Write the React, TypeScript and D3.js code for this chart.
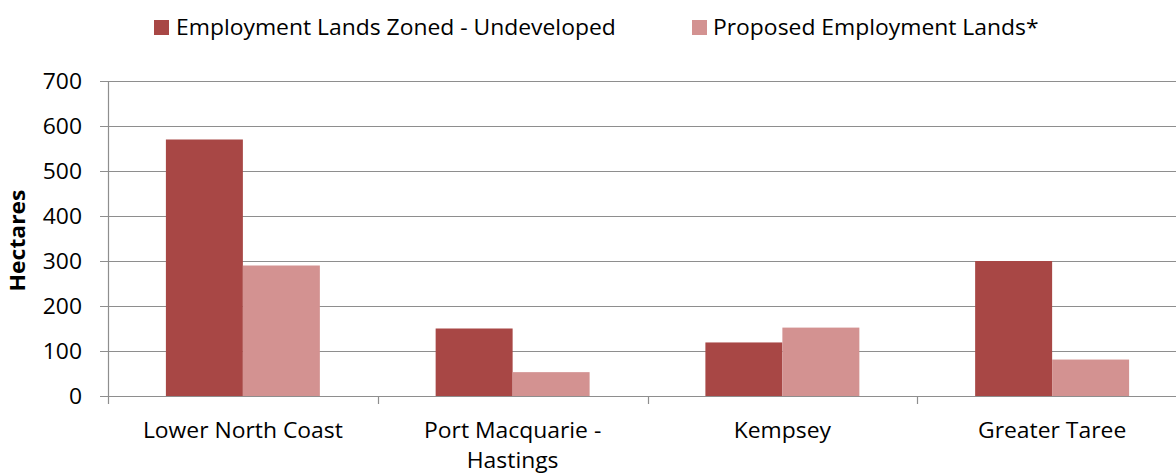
import React from "react";
import * as d3 from "d3";

const categories = ["Lower North Coast", "Port Macquarie - Hastings", "Kempsey", "Greater Taree"];
const categoryLines = [["Lower North Coast"], ["Port Macquarie -", "Hastings"], ["Kempsey"], ["Greater Taree"]];
const seriesNames = ["Employment Lands Zoned - Undeveloped", "Proposed Employment Lands*"];
const zonedValues = [570, 150, 119, 300];
const proposedValues = [290, 53, 152, 81];
const yTicks = [0, 100, 200, 300, 400, 500, 600, 700];
const colors = ["#A84745", "#D39291"];

const W = 1176;
const H = 475;
const left = 108;
const right = 1187;
const visibleRight = 1176;
const top = 81;
const bottom = 396;
const FONT = "'Open Sans', sans-serif";
const SX = 1.09;
const FS = 21;

function T({ x, y, anchor = "start", size = FS, weight = "normal", children }: any) {
  return (
    <text
      transform={`translate(${x},${y}) scale(${SX},1)`}
      textAnchor={anchor}
      fontSize={size}
      fontWeight={weight}
      fill="#000"
    >
      {children}
    </text>
  );
}

export default function App() {
  const x0 = d3.scaleBand<string>().domain(categories).range([left, right]).padding(0);
  const x1 = d3.scaleBand<string>().domain(seriesNames).range([0, x0.bandwidth()]).paddingInner(0).paddingOuter(0.752);
  const y = d3.scaleLinear().domain([0, 700]).range([bottom, top]);
  const seriesValues = [zonedValues, proposedValues];
  const grid = "#8E8E8E";
  const boundaries = categories.map((c) => x0(c)!);

  return (
    <svg width={W} height={H} style={{ position: "absolute", left: 0, top: 0, background: "#fff" }} fontFamily={FONT}>
      {yTicks.map((t) => (
        <line key={t} x1={left - 8} x2={visibleRight} y1={Math.round(y(t)) + 0.5} y2={Math.round(y(t)) + 0.5} stroke={grid} strokeWidth={1.2} />
      ))}
      <line x1={left + 0.5} x2={left + 0.5} y1={top} y2={bottom + 8} stroke={grid} strokeWidth={1.2} />
      {boundaries.slice(1).map((b, i) => (
        <line key={i} x1={Math.round(b) + 0.5} x2={Math.round(b) + 0.5} y1={bottom} y2={bottom + 8} stroke={grid} strokeWidth={1.2} />
      ))}
      {seriesNames.map((s, si) =>
        categories.map((c, ci) => {
          const v = seriesValues[si][ci];
          const bx = x0(c)! + x1(s)!;
          return <rect key={s + c} x={bx} y={y(v)} width={x1.bandwidth()} height={y(0) - y(v)} fill={colors[si]} />;
        })
      )}
      {yTicks.map((t) => (
        <T key={t} x={82} y={y(t) + 7.5} anchor="end">
          {t}
        </T>
      ))}
      <text
        transform={`translate(25,${(top + bottom) / 2 + 2}) rotate(-90) scale(${SX},1)`}
        textAnchor="middle"
        fontSize={21}
        fontWeight="bold"
        fill="#000"
      >
        Hectares
      </text>
      {categories.map((c, ci) =>
        categoryLines[ci].map((line, li) => (
          <T key={c + li} x={x0(c)! + x0.bandwidth() / 2} y={438 + li * 30} anchor="middle">
            {line}
          </T>
        ))
      )}
      <rect x={154} y={20} width={15} height={15} fill={colors[0]} />
      <T x={176} y={35}>{seriesNames[0]}</T>
      <rect x={692} y={20} width={15} height={15} fill={colors[1]} />
      <T x={713} y={35}>{seriesNames[1]}</T>
    </svg>
  );
}
